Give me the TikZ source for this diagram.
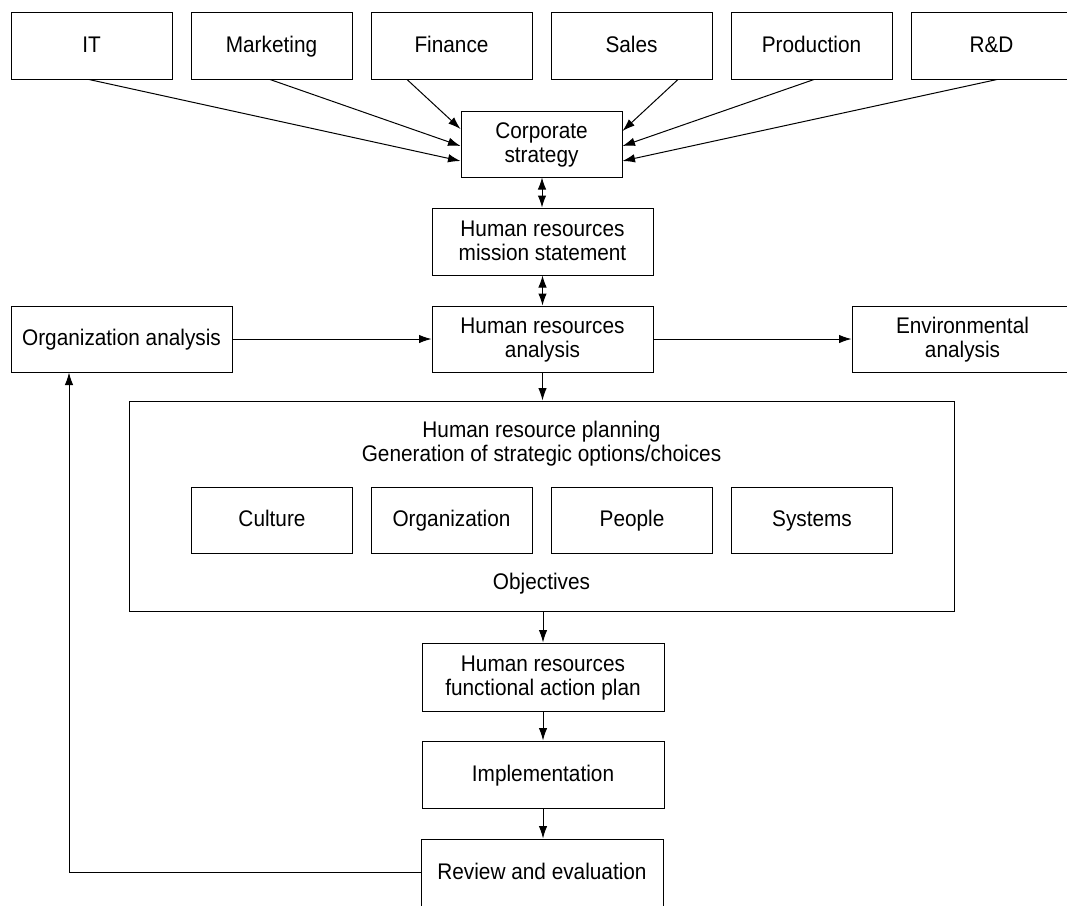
\documentclass[tikz,border=0pt]{standalone}
\usepackage{fontspec}
\setmainfont{Liberation Sans}[FakeStretch=0.92]
\usetikzlibrary{arrows.meta,calc}
\newcommand\Ls[1]{\rule[-3pt]{0pt}{19pt}\smash{#1}}
\begin{document}
\begin{tikzpicture}[x=1pt,y=-1pt,
  txt/.style={inner sep=0pt, align=center, font=\fontsize{22.6}{24}\selectfont},
  box/.style={txt, draw, line width=1pt},
  arr/.style={-{Latex[length=12.5pt,width=8.5pt]}, line width=1pt},
  darr/.style={{Latex[length=12pt,width=8.5pt]}-{Latex[length=12pt,width=8.5pt]}, line width=1pt}]
\useasboundingbox (0,0) rectangle (1067,905);
% top row
\node[box, minimum width=161pt, minimum height=67pt] (it)   at (91.5,45.5)  {\Ls{IT}};
\node[box, minimum width=161pt, minimum height=67pt] (mkt)  at (271.5,45.5) {\Ls{Marketing}};
\node[box, minimum width=161pt, minimum height=67pt] (fin)  at (451.5,45.5) {\Ls{Finance}};
\node[box, minimum width=161pt, minimum height=67pt] (sal)  at (631.5,45.5) {\Ls{Sales}};
\node[box, minimum width=161pt, minimum height=67pt] (prod) at (811.5,45.5) {\Ls{Production}};
\node[box, minimum width=161pt, minimum height=67pt] (rd)   at (991.5,45.5) {\Ls{R\&D}};
% column
\node[box, minimum width=161pt, minimum height=66pt] (corp) at (541.5,144) {\Ls{Corporate}\\\Ls{strategy}};
\node[box, minimum width=221pt, minimum height=67pt] (mis)  at (542.5,241.5) {\Ls{Human resources}\\\Ls{mission statement}};
\node[box, minimum width=221pt, minimum height=66pt] (hra)  at (542.5,339) {\Ls{Human resources}\\\Ls{analysis}};
\node[box, minimum width=221pt, minimum height=66pt] (org)  at (121.5,339) {\Ls{Organization analysis}};
\node[box, minimum width=221pt, minimum height=66pt] (env)  at (962.5,339) {\Ls{Environmental}\\\Ls{analysis}};
% big box
\node[box, minimum width=825pt, minimum height=210pt] (big) at (541.5,506) {};
\node[txt] (hrp) at (541.5,443) {\Ls{Human resource planning}\\\Ls{Generation of strategic options/choices}};
\node[box, minimum width=161pt, minimum height=66pt] (cul)  at (272,520)   {\Ls{Culture}};
\node[box, minimum width=161pt, minimum height=66pt] (orgn) at (451.5,520) {\Ls{Organization}};
\node[box, minimum width=161pt, minimum height=66pt] (peo)  at (632,520)   {\Ls{People}};
\node[box, minimum width=161pt, minimum height=66pt] (sys)  at (812,520)   {\Ls{Systems}};
\node[txt] (obj) at (541.5,583) {\Ls{Objectives}};
% lower column
\node[box, minimum width=242pt, minimum height=68pt] (func) at (543,677) {\Ls{Human resources}\\\Ls{functional action plan}};
\node[box, minimum width=242pt, minimum height=67pt] (impl) at (543,774.5) {\Ls{Implementation}};
\node[box, minimum width=242pt, minimum height=67pt] (rev)  at (542,872.5) {\Ls{Review and evaluation}};
% connectors top
\draw[arr] ([xshift=-2.5pt]it.south) -- ([yshift=-17pt]corp.west);
\draw[arr] ([xshift=-1.5pt]mkt.south) -- ([yshift=-2pt]corp.west);
\draw[arr] ([xshift=-44.5pt]fin.south) -- ([yshift=15pt]corp.west);
\draw[arr] ([xshift=46.5pt]sal.south) -- ([yshift=13pt]corp.east);
\draw[arr] ([xshift=2.5pt]prod.south) -- ([yshift=-2pt]corp.east);
\draw[arr] ([xshift=5.5pt]rd.south) -- ([yshift=-17pt]corp.east);
% column connectors
\draw[darr] ([xshift=0.5pt]corp.south) -- ([xshift=0.5pt]corp.south |- mis.north);
\draw[darr] (mis.south) -- (hra.north);
\draw[arr] (org.east) -- (hra.west);
\draw[arr] (hra.east) -- (env.west);
\draw[arr] (hra.south) -- (hra.south |- big.north);
\draw[arr] (func.north |- big.south) -- (func.north);
\draw[arr] (func.south) -- (impl.north);
\draw[arr] (impl.south) -- (impl.south |- rev.north);
\draw[arr] (rev.west) -| ([xshift=-52.5pt]org.south);
\end{tikzpicture}
\end{document}
